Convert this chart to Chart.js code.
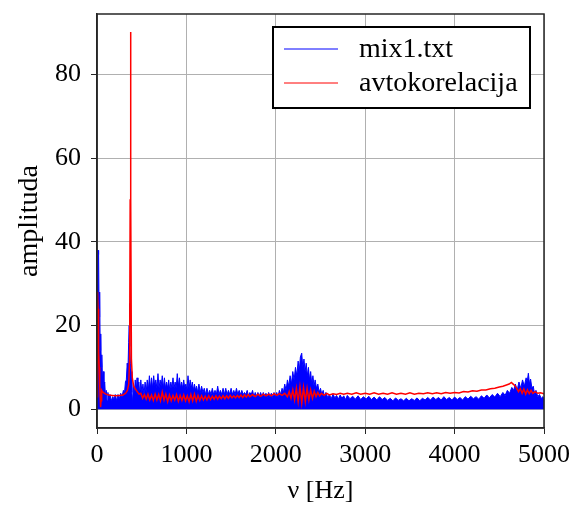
<!DOCTYPE html>
<html>
<head>
<meta charset="utf-8">
<script src="https://cdn.jsdelivr.net/npm/chart.js@4.4.1/dist/chart.umd.min.js"></script>
<style>
  html, body { margin: 0; padding: 0; background: #fff; }
  #wrap { width: 572px; height: 509px; }
</style>
</head>
<body>
<div id="wrap"><canvas id="myChart" width="572" height="509"></canvas></div>
<script>
// spectrum of mix1.txt (upper edge of the noisy band)
const blueHz = [
  0, 6, 12, 18, 24, 30, 36, 42, 48, 54, 62, 70, 78, 86, 95, 104, 112, 122, 132, 145,
  160, 175, 190, 205, 220, 235, 250, 265, 280, 295, 308, 318, 328, 338, 346, 354, 360, 364, 368, 374,
  382, 390, 398, 408, 418, 428, 438, 448, 458, 468, 478, 490, 502, 514, 526, 538, 550, 562, 574, 586,
  598, 610, 622, 634, 646, 658, 670, 682, 694, 706, 718, 730, 742, 754, 766, 778, 790, 802, 814, 826,
  838, 850, 862, 874, 886, 898, 910, 922, 934, 946, 958, 970, 982, 994, 1006, 1018, 1030, 1042, 1054, 1066,
  1078, 1090, 1102, 1114, 1126, 1140, 1155, 1170, 1185, 1200, 1215, 1230, 1245, 1260, 1275, 1290, 1305, 1320, 1335, 1350,
  1365, 1380, 1395, 1410, 1425, 1440, 1455, 1470, 1485, 1500, 1515, 1530, 1545, 1560, 1575, 1590, 1605, 1620, 1635, 1650,
  1665, 1680, 1695, 1710, 1725, 1740, 1755, 1770, 1785, 1800, 1815, 1830, 1845, 1860, 1875, 1890, 1905, 1920, 1935, 1950,
  1965, 1980, 1995, 2010, 2025, 2040, 2055, 2070, 2085, 2100, 2115, 2130, 2145, 2160, 2175, 2190, 2205, 2220, 2235, 2250,
  2262, 2275, 2290, 2302, 2315, 2328, 2340, 2352, 2365, 2378, 2390, 2402, 2415, 2428, 2440, 2455, 2470, 2485, 2500, 2515,
  2530, 2545, 2560, 2580, 2600, 2620, 2640, 2660, 2680, 2700, 2720, 2740, 2760, 2780, 2800, 2830, 2860, 2890, 2920, 2950,
  2980, 3010, 3040, 3070, 3100, 3130, 3160, 3190, 3220, 3250, 3280, 3310, 3340, 3370, 3400, 3430, 3460, 3490, 3520, 3550,
  3580, 3610, 3640, 3670, 3700, 3730, 3760, 3790, 3820, 3850, 3880, 3910, 3940, 3970, 4000, 4030, 4060, 4090, 4120, 4150,
  4180, 4210, 4240, 4270, 4300, 4330, 4360, 4390, 4420, 4450, 4480, 4510, 4540, 4565, 4590, 4615, 4640, 4660, 4680, 4700,
  4720, 4740, 4760, 4780, 4800, 4812, 4825, 4838, 4850, 4865, 4880, 4895, 4910, 4930, 4950, 4970, 4985, 5000
];
const blueAmp = [
  2, 30, 38, 37, 22, 28, 14, 18, 10, 13, 7, 9, 5, 6.5, 3, 4.5, 2, 4, 2.5, 3.5,
  2, 3, 2.5, 3.5, 2, 3.5, 2.5, 3.8, 3, 4.5, 4, 6.5, 7, 11, 9, 16, 20, 25.3, 15, 11,
  9, 4, 1.5, 6, 3.5, 7, 4, 7.5, 4, 6.5, 3.5, 7, 4, 6, 3.5, 6.5, 4, 7, 4.5, 8,
  5, 7.5, 5, 8, 5.5, 7, 5, 8.5, 5, 7, 5.5, 8, 5, 7.5, 5, 6.5, 5, 7, 4.5, 6.5,
  5, 7.5, 5, 6.5, 5, 8.5, 5.5, 7.5, 5, 6.5, 5, 7, 5, 6, 4.5, 8, 5, 7, 5, 6.5,
  4.5, 6, 4.5, 5.5, 4, 6, 4, 5.5, 4, 5, 3.5, 5, 3.5, 4.5, 3.5, 5, 3.5, 4.5, 3.5, 5.5,
  3.5, 4.5, 3.5, 5, 3.5, 5, 3.5, 4.5, 3.5, 5, 3.5, 4.5, 3.5, 5, 3.5, 4.5, 3.5, 4.5, 3.5, 4,
  3.5, 4.5, 3, 4, 3.5, 4.5, 3, 4, 3, 4, 3, 4, 3, 4, 3, 3.8, 2.8, 4, 3, 3.8,
  2.8, 4, 3, 4, 3, 4.5, 3.5, 5, 4, 6, 4.5, 7, 5.5, 8, 6, 9, 7, 10, 8, 11.5,
  9, 12.5, 13.4, 10, 12, 9, 11, 8, 10, 7, 9, 6, 8, 5.5, 7, 5, 6, 4, 5, 3.5,
  4.5, 3, 4, 2.8, 3.5, 2.5, 3.6, 2.7, 3.3, 2.4, 3.4, 2.6, 3.2, 2.3, 3.3, 2.5, 3.1, 2.4, 3.2, 2.3,
  3, 2.4, 3.1, 2.3, 2.9, 2.2, 3, 2.3, 2.8, 2.1, 2.6, 2, 2.7, 2.1, 2.5, 2, 2.6, 2, 2.5, 2.1,
  2.7, 2, 2.6, 2.2, 2.8, 2.2, 2.9, 2.3, 2.8, 2.2, 3, 2.3, 2.8, 2.2, 2.9, 2.3, 2.8, 2.2, 3, 2.4,
  3.1, 2.5, 3, 2.4, 3.2, 2.6, 3.4, 2.7, 3.5, 2.9, 3.8, 3, 4, 3.3, 4.5, 3.8, 5.2, 4.5, 6, 4.5,
  6.5, 5, 7, 5.5, 7.5, 6.5, 8.6, 6, 7.2, 5, 5.5, 3.5, 4.5, 3, 3.5, 2.5, 3, 2.5
];

// autocorrelation spectrum
const redHz = [
  0, 4, 8, 12, 16, 20, 25, 30, 35, 40, 45, 52, 60, 70, 85, 100, 130, 170, 210, 250,
  290, 320, 340, 355, 365, 371, 375, 379, 385, 395, 410, 430, 450, 470, 490, 510, 530, 550, 570, 590,
  610, 630, 650, 670, 690, 710, 730, 750, 770, 790, 810, 830, 850, 870, 890, 910, 930, 950, 970, 990,
  1010, 1030, 1050, 1070, 1090, 1110, 1130, 1150, 1170, 1190, 1210, 1230, 1250, 1270, 1290, 1310, 1330, 1350, 1370, 1390,
  1410, 1430, 1450, 1470, 1490, 1510, 1530, 1550, 1570, 1590, 1610, 1630, 1650, 1670, 1690, 1710, 1740, 1770, 1800, 1830,
  1860, 1890, 1920, 1950, 1980, 2010, 2040, 2070, 2100, 2130, 2150, 2170, 2190, 2210, 2230, 2250, 2270, 2290, 2310, 2330,
  2350, 2370, 2390, 2410, 2430, 2450, 2470, 2490, 2510, 2540, 2570, 2600, 2640, 2680, 2720, 2760, 2800, 2850, 2900, 2950,
  3000, 3050, 3100, 3150, 3200, 3250, 3300, 3350, 3400, 3450, 3500, 3550, 3600, 3650, 3700, 3750, 3800, 3850, 3900, 3950,
  4000, 4050, 4100, 4150, 4200, 4250, 4300, 4350, 4400, 4450, 4500, 4540, 4580, 4610, 4635, 4655, 4675, 4695, 4715, 4735,
  4755, 4775, 4795, 4815, 4835, 4855, 4875, 4900, 4930, 4960, 5000
];
const redAmp = [
  3, 22, 28, 24, 18, 14, 10, 6, 3, 0.5, 2, 4.5, 4.2, 4, 3.8, 3.6, 3.4, 3.3, 3.2, 3.3,
  3.4, 3.8, 4.5, 6, 12, 50, 90.2, 50, 12, 7.5, 5.5, 4.8, 4.2, 3.6, 3.8, 2.6, 3.5, 2.4, 3.6, 2.2,
  3.4, 2.1, 3.6, 2.2, 3.5, 2, 4.1, 2.2, 3.6, 1.8, 3.4, 2, 3.3, 2.2, 3.5, 1.9, 3.3, 2.1, 3.4, 2,
  3.2, 1.8, 3.5, 2, 3.6, 1.9, 3.3, 2.1, 3.2, 2.2, 3.1, 2.2, 3.2, 2.3, 3.1, 2.4, 3.2, 2.4, 3.1, 2.5,
  3.2, 2.5, 3.2, 2.6, 3.3, 2.7, 3.2, 2.7, 3.3, 2.8, 3.4, 2.8, 3.4, 2.9, 3.5, 3, 3.5, 3, 3.6, 3.1,
  3.6, 3.2, 3.6, 3.2, 3.7, 3.3, 3.7, 3.3, 3.8, 3, 4.2, 2.6, 4.6, 2.2, 5, 1.8, 5.3, 1.5, 5.2, 1.8,
  5, 2.2, 4.6, 2.6, 4.3, 3, 4, 3.2, 3.8, 3.3, 3.8, 3.4, 3.7, 3.5, 3.8, 3.6, 3.8, 3.6, 3.9, 3.6,
  3.8, 3.6, 3.9, 3.6, 3.8, 3.6, 3.9, 3.6, 3.8, 3.6, 3.9, 3.6, 3.8, 3.7, 3.9, 3.7, 3.9, 3.7, 4, 3.8,
  4, 3.9, 4.2, 4.1, 4.4, 4.3, 4.6, 4.6, 4.9, 5, 5.3, 5.5, 5.8, 6, 6.4, 6, 5.6, 5, 4.2, 4.9,
  3.8, 4.8, 3.6, 4.6, 3.7, 4.5, 3.8, 4.2, 3.8, 3.9, 3.7
];

const xTicks = [0, 1000, 2000, 3000, 4000, 5000];
const yTicks = [0, 20, 40, 60, 80];

const serif = "'Liberation Serif', 'DejaVu Serif', serif";

const frame = {
  id: 'frame',
  afterDatasetsDraw(chart) {
    const { ctx, chartArea: a } = chart;
    ctx.save();
    ctx.strokeStyle = '#262626';
    ctx.lineWidth = 1.5;
    ctx.strokeRect(a.left, a.top, a.right - a.left, a.bottom - a.top);
    ctx.restore();
  }
};

const boxLegend = {
  id: 'boxLegend',
  afterDraw(chart) {
    const ctx = chart.ctx;
    ctx.save();
    ctx.fillStyle = '#fff';
    ctx.fillRect(273, 27, 257, 81);
    ctx.strokeStyle = '#000';
    ctx.lineWidth = 2;
    ctx.strokeRect(273, 27, 257, 81);
    ctx.font = '28px ' + serif;
    ctx.textBaseline = 'middle';
    chart.data.datasets.forEach((ds, i) => {
      const y = 49 + i * 34;
      ctx.strokeStyle = ds.borderColor;
      ctx.lineWidth = 1;
      ctx.beginPath();
      ctx.moveTo(284, y);
      ctx.lineTo(338, y);
      ctx.stroke();
      ctx.fillStyle = '#000';
      ctx.fillText(ds.label, 359, y + 1);
    });
    ctx.restore();
  }
};

const ctx = document.getElementById('myChart');

new Chart(ctx, {
  type: 'line',
  data: {
    datasets: [{
      label: 'mix1.txt',
      data: blueHz.map((hz, i) => ({ x: hz, y: blueAmp[i] })),
      borderColor: '#0000ff',
      backgroundColor: '#0000ff',
      borderWidth: 1,
      fill: 'origin',
      pointRadius: 0,
      tension: 0,
      order: 2
    }, {
      label: 'avtokorelacija',
      data: redHz.map((hz, i) => ({ x: hz, y: redAmp[i] })),
      borderColor: '#ff0000',
      borderWidth: 1.5,
      fill: false,
      pointRadius: 0,
      tension: 0,
      order: 1
    }]
  },
  options: {
    responsive: false,
    animation: false,
    layout: { padding: { left: 0, right: 28, top: 14, bottom: 0 } },
    plugins: {
      legend: { display: false },
      tooltip: { enabled: false }
    },
    scales: {
      x: {
        type: 'linear',
        min: 0,
        max: 5000,
        afterBuildTicks: s => { s.ticks = xTicks.map(v => ({ value: v })); },
        afterFit: s => { s.height = 81; s.paddingLeft = 0; s.paddingRight = 0; },
        grid: { color: '#b0b0b0', lineWidth: 1, tickLength: 6, tickColor: '#262626' },
        border: { color: '#262626', width: 1.5 },
        ticks: { color: '#000', font: { family: serif, size: 26 }, padding: 6, maxRotation: 0, callback: v => String(v) },
        title: { display: true, text: 'ν [Hz]', color: '#000', font: { family: serif, size: 26 }, padding: { top: 0, bottom: 2 } }
      },
      y: {
        min: -4.5,
        max: 94.5,
        afterBuildTicks: s => { s.ticks = yTicks.map(v => ({ value: v })); },
        afterFit: s => { s.width = 97; s.paddingTop = 0; s.paddingBottom = 0; },
        grid: { color: '#b0b0b0', lineWidth: 1, tickLength: 6, tickColor: '#262626' },
        border: { color: '#262626', width: 1.5 },
        ticks: { color: '#000', font: { family: serif, size: 26 }, padding: 10, callback: v => String(v) },
        title: { display: true, text: 'amplituda', color: '#000', font: { family: serif, size: 28 }, padding: { top: 13, bottom: 0 } }
      }
    }
  },
  plugins: [frame, boxLegend]
});
</script>
</body>
</html>
